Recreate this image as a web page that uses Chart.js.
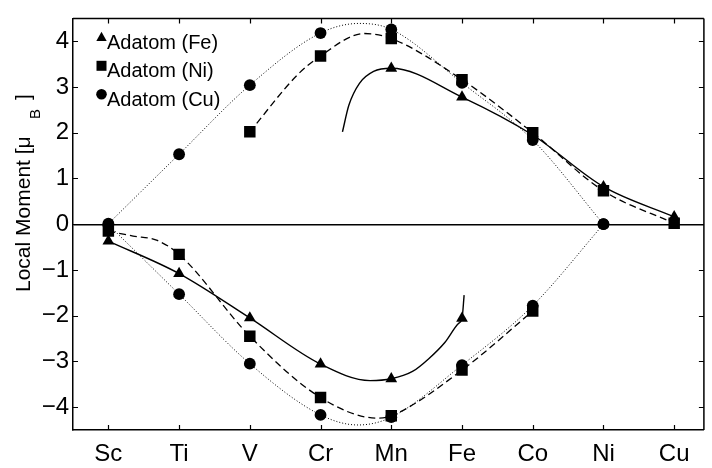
<!DOCTYPE html>
<html>
<head>
<meta charset="utf-8">
<script src="https://cdn.jsdelivr.net/npm/chart.js@4/dist/chart.umd.min.js"></script>
<style>
  html, body { margin: 0; padding: 0; background: #fff; }
  #wrap { width: 712px; height: 468px; }
</style>
</head>
<body>
<div id="wrap"><canvas id="c" width="712" height="468"></canvas></div>
<script>
// Transition-metal hosts along the x axis
const categories = ['Sc', 'Ti', 'V', 'Cr', 'Mn', 'Fe', 'Co', 'Ni', 'Cu'];
const yTicks = [-4, -3, -2, -1, 0, 1, 2, 3, 4];
const seriesNames = ['Adatom (Fe)', 'Adatom (Ni)', 'Adatom (Cu)'];

// Local moments per host (null where no point was computed)
const feUp   = [null, null, null, null, 3.41, 2.78, 1.95, 0.82, 0.16];
const feDown = [-0.37, -1.08, -2.05, -3.06, -3.38, -2.06, null, null, null];
const niUp   = [null, null, 2.02, 3.68, 4.06, 3.16, 2.00, 0.73, 0.02];
const niDown = [-0.15, -0.66, -2.45, -3.79, -4.19, -3.19, -1.90, null, null];
const cuUp   = [0.01, 1.53, 3.04, 4.18, 4.26, 3.09, 1.84, 0.00, null];
const cuDown = [-0.01, -1.53, -3.05, -4.17, -4.22, -3.08, -1.78, 0.00, null];

// Extra [x, moment] points that shape the guide curves between / beyond hosts
const feUpBend   = [[3.31, 2.02], [3.40, 2.60], [3.55, 3.08], [3.75, 3.34]];
const feDownBend = [[3.70, -3.42], [4.30, -3.22], [4.53, -2.94], [4.76, -2.58], [4.95, -2.17], [5.03, -1.55]];
const niUpBend   = [[2.67, 3.26], [3.62, 4.17]];
const niDownBend = [[0.35, -0.26], [0.68, -0.35], [3.80, -4.24]];
const cuUpBend   = [[3.55, 4.39]];
const cuDownBend = [[3.53, -4.39]];

Chart.defaults.font.family = '"Liberation Sans", Arial, sans-serif';
Chart.defaults.color = '#000';

function markerPoints(vals) {
  const pts = [];
  vals.forEach((v, i) => { if (v !== null) pts.push({ x: i, y: v }); });
  return pts;
}
function curvePoints(vals, bend) {
  const pts = markerPoints(vals);
  bend.forEach(([x, y]) => pts.push({ x: x, y: y }));
  return pts.sort((a, b) => a.x - b.x);
}

const styles = [
  { style: 'triangle', radius: 6.8, dash: [], width: 1.4 },
  { style: 'rect', radius: 8.1, dash: [7, 4], width: 1.3 },
  { style: 'circle', radius: 5.9, dash: [1, 2], width: 1.0 }
];
const groups = [
  [feUp, feDown, feUpBend, feDownBend],
  [niUp, niDown, niUpBend, niDownBend],
  [cuUp, cuDown, cuUpBend, cuDownBend]
];

const datasets = [];
groups.forEach((g, k) => {
  const st = styles[k];
  [[g[0], g[2]], [g[1], g[3]]].forEach(([vals, bend]) => {
    datasets.push({
      label: seriesNames[k],
      data: curvePoints(vals, bend),
      showLine: true,
      borderColor: '#000',
      borderWidth: st.width,
      borderDash: st.dash,
      cubicInterpolationMode: 'monotone',
      pointRadius: 0,
      fill: false,
      order: 2
    });
    datasets.push({
      label: seriesNames[k],
      data: markerPoints(vals),
      showLine: false,
      pointStyle: st.style,
      pointRadius: st.radius,
      pointBackgroundColor: '#000',
      pointBorderColor: '#000',
      pointBorderWidth: 0,
      order: 1
    });
  });
});

// Frame on top/right plus inward tick marks on all four sides
const framePlugin = {
  id: 'frame',
  afterDatasetsDraw(chart) {
    const { ctx, chartArea: a, scales } = chart;
    ctx.save();
    ctx.strokeStyle = '#000';
    ctx.lineWidth = 1.5;
    ctx.beginPath();
    ctx.moveTo(a.left, a.top); ctx.lineTo(a.right, a.top);
    ctx.moveTo(a.right, a.top); ctx.lineTo(a.right, a.bottom);
    ctx.stroke();
    ctx.lineWidth = 1.2;
    const len = 5;
    ctx.beginPath();
    categories.forEach((c, i) => {
      const x = Math.round(scales.x.getPixelForValue(i)) + 0.5;
      ctx.moveTo(x, a.bottom); ctx.lineTo(x, a.bottom - len);
      ctx.moveTo(x, a.top); ctx.lineTo(x, a.top + len);
    });
    yTicks.forEach(v => {
      const y = Math.round(scales.y.getPixelForValue(v)) + 0.5;
      ctx.moveTo(a.left, y); ctx.lineTo(a.left + len, y);
      ctx.moveTo(a.right, y); ctx.lineTo(a.right - len, y);
    });
    ctx.stroke();
    ctx.restore();
  }
};

// Legend in the upper-left corner of the plot
const legendPlugin = {
  id: 'cornerLegend',
  afterDraw(chart) {
    const { ctx, chartArea: a } = chart;
    ctx.save();
    ctx.fillStyle = '#000';
    ctx.font = '20px "Liberation Sans", Arial, sans-serif';
    ctx.textBaseline = 'alphabetic';
    ctx.textAlign = 'left';
    seriesNames.forEach((name, k) => {
      const base = a.top + 30.5 + k * 28.4;
      const mx = a.left + 28.5;
      const my = base - 11.5;
      ctx.beginPath();
      if (k === 0) {
        ctx.moveTo(mx, my - 5.6);
        ctx.lineTo(mx + 5.2, my + 3.6);
        ctx.lineTo(mx - 5.2, my + 3.6);
        ctx.closePath();
      } else if (k === 1) {
        ctx.rect(mx - 5, my - 5, 10, 10);
      } else {
        ctx.arc(mx, my, 5.3, 0, Math.PI * 2);
      }
      ctx.fill();
      ctx.fillText(name, a.left + 34, base);
    });
    ctx.restore();
  }
};

// Rotated y-axis title with subscript B
const yTitlePlugin = {
  id: 'yTitle',
  afterDraw(chart) {
    const { ctx } = chart;
    ctx.save();
    ctx.fillStyle = '#000';
    ctx.translate(30, 292);
    ctx.rotate(-Math.PI / 2);
    ctx.textAlign = 'left';
    ctx.textBaseline = 'alphabetic';
    ctx.font = '21px "Liberation Sans", Arial, sans-serif';
    ctx.fillText('Local Moment [\u03bc', 0, 0);
    ctx.font = '15px "Liberation Sans", Arial, sans-serif';
    ctx.fillText('B', 173, 10);
    ctx.font = '21px "Liberation Sans", Arial, sans-serif';
    ctx.fillText(']', 192, 0);
    ctx.restore();
  }
};

new Chart(document.getElementById('c'), {
  type: 'line',
  data: { datasets: datasets },
  options: {
    responsive: false,
    animation: false,
    devicePixelRatio: 1,
    layout: { padding: { top: 8, right: 0, left: 0, bottom: 0 } },
    plugins: { legend: { display: false }, tooltip: { enabled: false } },
    scales: {
      x: {
        type: 'linear',
        min: -0.5,
        max: 8.42,
        afterBuildTicks: s => { s.ticks = categories.map((c, i) => ({ value: i })); },
        afterFit: s => { s.height = 38; },
        ticks: {
          callback: v => categories[v],
          autoSkip: false,
          maxRotation: 0,
          padding: 10,
          color: '#000',
          font: { size: 24 }
        },
        grid: { display: false, drawTicks: false },
        border: { display: true, color: '#000', width: 1.5 }
      },
      y: {
        type: 'linear',
        min: -4.5,
        max: 4.5,
        afterBuildTicks: s => { s.ticks = yTicks.map(v => ({ value: v })); },
        afterFit: s => { s.width = 73; },
        ticks: {
          callback: v => (v < 0 ? '\u2212' + Math.abs(v) : String(v)),
          padding: 4,
          color: '#000',
          font: { size: 24 }
        },
        grid: {
          drawTicks: false,
          color: c => (c.tick && c.tick.value === 0 ? '#000' : 'rgba(0,0,0,0)'),
          lineWidth: 1.4
        },
        border: { display: true, color: '#000', width: 1.5 }
      }
    }
  },
  plugins: [framePlugin, legendPlugin, yTitlePlugin]
});
</script>
</body>
</html>
